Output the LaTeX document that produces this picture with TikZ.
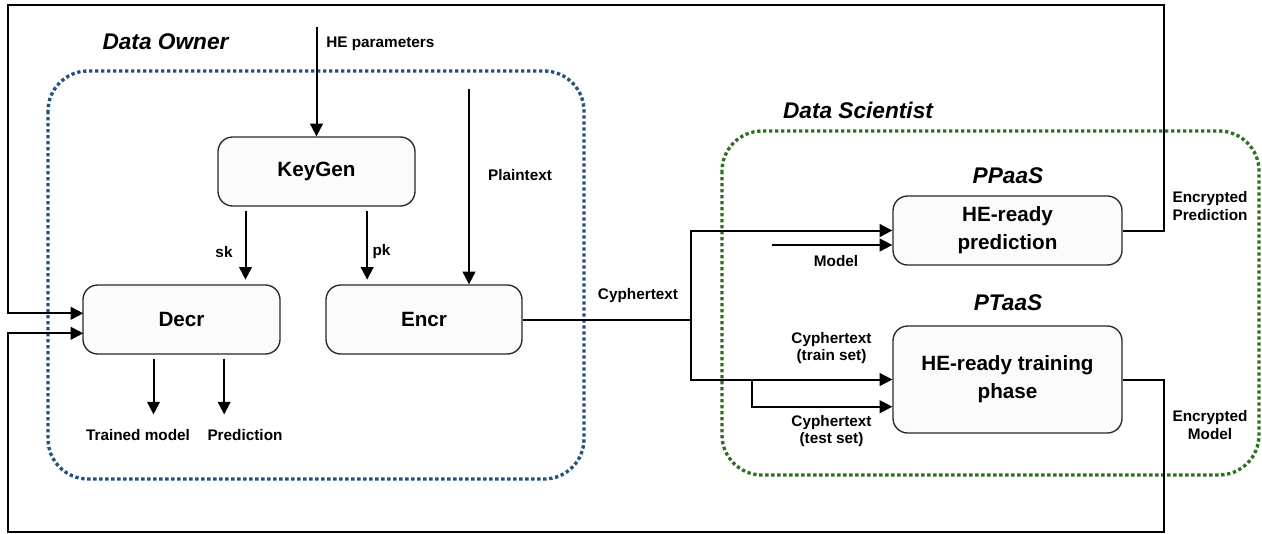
\documentclass[tikz,border=0pt]{standalone}
\usepackage{fontspec}
\setmainfont{Liberation Sans}
\usetikzlibrary{arrows.meta}
\definecolor{ownerblue}{RGB}{34,82,132}
\definecolor{scigreen}{RGB}{46,112,30}
\definecolor{boxfill}{RGB}{251,251,251}
\definecolor{boxline}{RGB}{40,40,40}
\begin{document}
\begin{tikzpicture}[x=0.75pt,y=-0.75pt,
  box/.style={draw=boxline, line width=1pt, fill=boxfill, rounded corners=11pt,
    align=center, font=\bfseries\fontsize{15.5}{21}\selectfont, inner sep=0pt},
  lbl/.style={font=\bfseries\fontsize{11.5}{13}\selectfont, align=center, inner sep=0pt},
  grouplbl/.style={font=\bfseries\itshape\fontsize{17}{20}\selectfont, inner sep=0pt},
  conn/.style={line width=1.5pt, line join=miter},
  arr/.style={conn, -{Triangle[length=9.5pt,width=9.5pt]}},
  dotbox/.style={line width=2.5pt, dash pattern=on 2.5pt off 2pt, rounded corners=30pt}]
\useasboundingbox (0,0) rectangle (1262,533);

% group frames
\draw[dotbox, draw=ownerblue] (48,71) rectangle (584,479);
\draw[dotbox, draw=scigreen] (722,131) rectangle (1259,475);

% group titles
\node[grouplbl] (downer) at (165.5,42) {Data Owner};
\node[grouplbl] (dsci) at (858,110) {Data Scientist};
\node[grouplbl] (ppaas) at (1008,176) {PPaaS};
\node[grouplbl] (ptaas) at (1008,303) {PTaaS};

% boxes
\node[box, minimum width=147.75pt, minimum height=51.75pt] (keygen) at (316.5,171.5) {KeyGen};
\node[box, minimum width=147.75pt, minimum height=51.75pt] (decr) at (181.5,319.5) {Decr};
\node[box, minimum width=147pt, minimum height=51.75pt] (encr) at (424,319.5) {Encr};
\node[box, minimum width=171.75pt, minimum height=51.75pt] (pred) at (1007.5,230.5) {HE-ready\\prediction};
\node[box, minimum width=171.75pt, minimum height=80.25pt] (train) at (1007.5,379.5) {HE-ready training\\phase};

% labels
\node[lbl, anchor=west] (hepl) at (326,44) {HE parameters};
\node[lbl] (skl) at (224,252) {sk};
\node[lbl] (pkl) at (381.5,252) {pk};
\node[lbl] (ptl) at (520,175) {Plaintext};
\node[lbl] (tmodel) at (138,435) {Trained model};
\node[lbl] (tpred) at (245,435) {Prediction};
\node[lbl] (cypl) at (638,296) {Cyphertext};
\node[lbl] (modl) at (836,261) {Model};
\node[lbl] (trainl) at (831.5,348) {Cyphertext\\(train set)};
\node[lbl] (testl) at (831.5,431) {Cyphertext\\(test set)};
\node[lbl] (encpl) at (1210,206) {Encrypted\\Prediction};
\node[lbl] (encml) at (1210,425) {Encrypted\\Model};

% coordinates
\coordinate (hep) at (316.5,27);
\coordinate (pt) at (469,89);
\coordinate (tr) at (1164,5);
\coordinate (tl) at (8,5);
\coordinate (din1) at (83.3,313.3);
\coordinate (br) at (1164,531.5);
\coordinate (bl) at (8,531.5);
\coordinate (din2) at (83.3,333.3);
\coordinate (j) at (691,319.5);
\coordinate (j2) at (752,379.5);
\coordinate (m) at (772,245);

% connectors
\draw[arr] (hep) -- (keygen.north);
\draw[arr, shorten <=3pt, shorten >=3.5pt] ([xshift=-53.25pt]keygen.south) -- ([xshift=-53.25pt]keygen.south |- decr.north);
\draw[arr, shorten <=3pt, shorten >=3.5pt] ([xshift=38pt]keygen.south) -- ([xshift=38pt]keygen.south |- encr.north);
\draw[arr] (pt) -- (pt |- encr.north);
\draw[arr, shorten <=3pt, shorten >=11pt] ([xshift=-21pt]decr.south) -- ([xshift=-21pt]decr.south |- tmodel.north);
\draw[arr, shorten <=3pt, shorten >=11pt] ([xshift=32pt]decr.south) -- ([xshift=32pt]decr.south |- tpred.north);

\draw[conn] (encr.east) -- (j);
\draw[arr] (j) |- (pred.west);
\draw[arr] (j) |- (train.west);
\draw[arr] (j2) |- ([yshift=-20.4pt]train.west);
\draw[arr] (m) -- (m -| pred.west);

\draw[arr] (pred.east) -| (tr) -- (tl) |- (din1);
\draw[arr] (train.east) -| (br) -- (bl) |- (din2);
\end{tikzpicture}
\end{document}
